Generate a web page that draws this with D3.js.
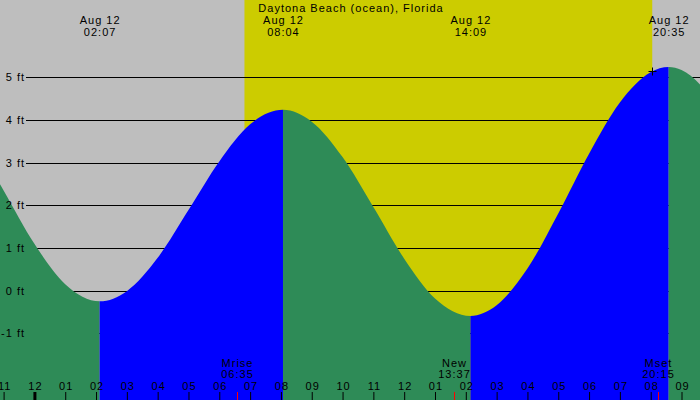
<!DOCTYPE html>
<html>
<head>
<meta charset="utf-8">
<script src="https://cdn.jsdelivr.net/npm/d3@7"></script>
<style>
  body { margin: 0; background: #fff; }
  svg { display: block; font-family: "Liberation Sans", Arial, sans-serif; font-size: 11px; letter-spacing: 1px; }
</style>
</head>
<body>
<div id="chart"></div>
<script>
// Tide chart — Daytona Beach (ocean), Florida, Aug 12
const title = "Daytona Beach (ocean), Florida";

// visible time window
const windowTimes = ["08-11 22:53", "08-12 21:36"];

// water level (ft)
const tideTimes = [
  "08-11 22:00", "08-11 23:00", "08-12 00:00", "08-12 01:00", "08-12 02:07",
  "08-12 03:00", "08-12 04:00", "08-12 05:00", "08-12 06:00", "08-12 07:00",
  "08-12 08:04", "08-12 09:00", "08-12 10:00", "08-12 11:00", "08-12 12:00",
  "08-12 13:00", "08-12 14:09", "08-12 15:00", "08-12 16:00", "08-12 17:00",
  "08-12 18:00", "08-12 19:00", "08-12 20:00", "08-12 20:35", "08-12 21:00",
  "08-12 22:00"
];
const tideHeights = [
  3.60, 2.35, 1.10, 0.15, -0.25,
  -0.01, 0.77, 1.89, 3.03, 3.90,
  4.24, 3.96, 3.13, 1.96, 0.75,
  -0.18, -0.59, -0.34, 0.52, 1.81,
  3.21, 4.41, 5.12, 5.24, 5.17,
  4.51
];

// high / low water
const extremeTimes = ["08-12 02:07", "08-12 08:04", "08-12 14:09", "08-12 20:35"];
const extremeKinds = ["low", "high", "low", "high"];

// daylight
const sunrise = "08-12 06:49";
const sunset = "08-12 20:03";
const markTimes = ["08-12 20:03"];
const markHeights = [5.14];

// moon
const moonNames = ["Mrise", "New", "Mset"];
const moonTimes = ["08-12 06:35", "08-12 13:37", "08-12 20:15"];

const heightTicks = [-1, 0, 1, 2, 3, 4, 5];

const W = 700, H = 400;
const parse = d3.timeParse("%m-%d %H:%M");

const svg = d3.select("#chart").append("svg")
  .attr("width", W).attr("height", H)
  .attr("viewBox", `0 0 ${W} ${H}`);

const x = d3.scaleTime().domain(windowTimes.map(parse)).range([0, W]);
const y = d3.scaleLinear().domain([0, 5]).range([290.7, 77.3]);

const tide = tideTimes.map((t, i) => ({ t: parse(t), v: tideHeights[i] }));

// backgrounds
svg.append("rect").attr("width", W).attr("height", H).attr("fill", "#bebebe");
svg.append("rect")
  .attr("x", x(parse(sunrise))).attr("y", 0)
  .attr("width", x(parse(sunset)) - x(parse(sunrise))).attr("height", H)
  .attr("fill", "#cccc00");

// gridlines (behind the water)
svg.append("g").selectAll("line")
  .data(heightTicks)
  .join("line")
  .attr("x1", 26).attr("x2", W)
  .attr("y1", d => Math.round(y(d)) + 0.5).attr("y2", d => Math.round(y(d)) + 0.5)
  .attr("stroke", "#000").attr("stroke-width", 1);

// water, coloured by rising / falling
const area = d3.area()
  .x(d => x(d.t))
  .y0(H)
  .y1(d => y(d.v))
  .curve(d3.curveMonotoneX);

svg.append("clipPath").attr("id", "water")
  .append("path").datum(tide).attr("d", area);

const bounds = [parse(windowTimes[0])].concat(extremeTimes.map(parse), [parse(windowTimes[1])]);
const segs = d3.pairs(bounds).map(([a, b], i) => ({
  a, b,
  rising: i === 0 ? extremeKinds[0] === "high" : extremeKinds[i - 1] === "low"
}));

svg.append("g").attr("clip-path", "url(#water)")
  .selectAll("rect")
  .data(segs)
  .join("rect")
  .attr("x", d => x(d.a)).attr("y", 0)
  .attr("width", d => x(d.b) - x(d.a)).attr("height", H)
  .attr("fill", d => d.rising ? "#0000ff" : "#2e8b57");

// sunset marker on the curve
const marks = svg.append("g").selectAll("g")
  .data(markTimes.map((t, i) => ({ t: parse(t), v: markHeights[i] })))
  .join("g")
  .attr("transform", d => `translate(${Math.round(x(d.t)) + 0.5},${Math.round(y(d.v)) + 0.5})`);
marks.append("line").attr("x1", -4).attr("x2", 4).attr("stroke", "#000");
marks.append("line").attr("y1", -4).attr("y2", 4).attr("stroke", "#000");

// height labels
svg.append("g").selectAll("text")
  .data(heightTicks)
  .join("text")
  .attr("x", 25).attr("y", d => y(d)).attr("dy", "0.36em")
  .attr("text-anchor", "end")
  .text(d => `${d} ft`);

// title
svg.append("text").attr("x", W / 2 + 1).attr("y", 11.5)
  .attr("text-anchor", "middle").text(title);

// high / low labels at the top
const tideLabels = svg.append("g").selectAll("g")
  .data(extremeTimes.map(parse))
  .join("g")
  .attr("transform", d => `translate(${x(d) + 0.5},0)`)
  .attr("text-anchor", "middle");
tideLabels.append("text").attr("y", 24).text(d3.timeFormat("%b %d"));
tideLabels.append("text").attr("y", 36).text(d3.timeFormat("%H:%M"));

// hour axis along the bottom
const axis = svg.append("g")
  .attr("transform", `translate(0,${H})`)
  .call(d3.axisTop(x)
    .ticks(d3.timeHour.every(1))
    .tickFormat(d3.timeFormat("%I"))
    .tickSize(8)
    .tickPadding(2));
axis.select(".domain").remove();
axis.attr("font-family", null).attr("font-size", null);
axis.selectAll(".tick line").attr("stroke", "#000")
  .attr("stroke-width", d => d.getHours() === 0 ? 3 : 1);
axis.selectAll(".tick text").attr("fill", "#000").attr("dx", "0.5");

// moon events
const moon = svg.append("g").selectAll("g")
  .data(moonTimes.map((t, i) => ({ t: parse(t), name: moonNames[i] })))
  .join("g")
  .attr("transform", d => `translate(${Math.round(x(d.t)) + 0.5},0)`)
  .attr("text-anchor", "middle");
moon.append("line").attr("y1", H - 8).attr("y2", H).attr("stroke", "#ff0000");
moon.append("text").attr("y", 366.5).text(d => d.name);
moon.append("text").attr("y", 378).text(d => d3.timeFormat("%H:%M")(d.t));
</script>
</body>
</html>
